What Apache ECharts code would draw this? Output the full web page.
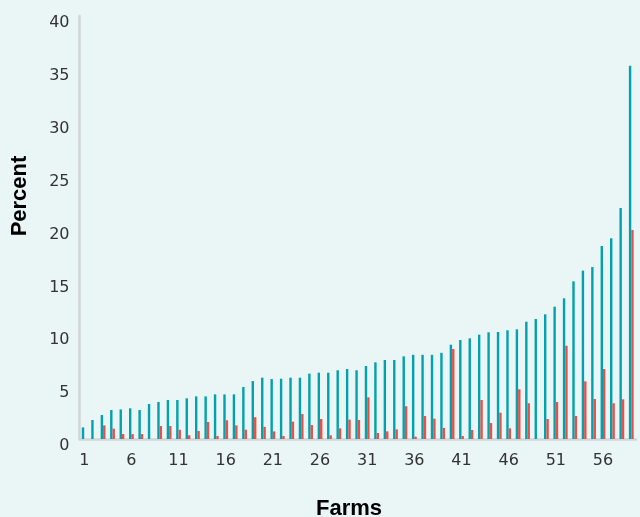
<!DOCTYPE html>
<html>
<head>
<meta charset="utf-8">
<script src="https://cdn.jsdelivr.net/npm/echarts@6/dist/echarts.min.js"></script>
<style>
html,body{margin:0;padding:0;background:#eaf5f6;}
#chart{width:640px;height:517px;}
</style>
</head>
<body>
<div id="chart"></div>
<script>
var farms = ['1','2','3','4','5','6','7','8','9','10','11','12','13','14','15','16','17','18','19','20',
  '21','22','23','24','25','26','27','28','29','30','31','32','33','34','35','36','37','38','39','40',
  '41','42','43','44','45','46','47','48','49','50','51','52','53','54','55','56','57','58','59'];
var tealValues = [1.1,1.8,2.27,2.74,2.8,2.9,2.74,3.31,3.5,3.69,
  3.69,3.85,4.03,4.03,4.22,4.22,4.22,4.92,5.48,5.8,
  5.67,5.7,5.8,5.8,6.18,6.27,6.27,6.5,6.62,6.5,
  6.9,7.25,7.47,7.47,7.82,7.96,7.96,7.96,8.15,8.92,
  9.36,9.52,9.86,10.09,10.12,10.28,10.37,11.09,11.35,11.79,
  12.51,13.3,14.91,15.92,16.26,18.25,18.98,21.84,35.3];
var redValues = [0,0,1.29,0.98,0.47,0.47,0.47,0,1.23,1.23,
  0.87,0.35,0.76,1.61,0.28,1.77,1.29,0.88,2.06,1.15,
  0.72,0.28,1.64,2.36,1.32,1.89,0.35,1.01,1.83,1.8,
  3.94,0.57,0.72,0.91,3.1,0.22,2.17,1.92,1.05,8.51,
  0.28,0.85,3.69,1.51,2.49,1.01,4.7,3.38,0,1.89,
  3.5,8.82,2.17,5.45,3.78,6.62,3.38,3.75,19.76];

var chart = echarts.init(document.getElementById('chart'), null, {renderer:'canvas'});
chart.setOption({
  backgroundColor: '#eaf5f6',
  animation: false,
  grid: {left: 79.5, right: 4, top: 16, bottom: 78, containLabel: false},
  xAxis: {
    type: 'category',
    data: farms,
    axisLine: {show: true, lineStyle: {color: '#d2d6d8', width: 2.5}},
    axisTick: {show: false},
    axisLabel: {interval: 4, color: '#333', fontSize: 16, fontFamily: 'DejaVu Sans', margin: 14}
  },
  yAxis: {
    type: 'value',
    min: 0, max: 40, interval: 5,
    splitLine: {show: false},
    axisLine: {show: true, lineStyle: {color: '#d2d6d8', width: 2.5}},
    axisTick: {show: false},
    axisLabel: {color: '#333', fontSize: 16, fontFamily: 'DejaVu Sans', margin: 10,
      verticalAlign: 'top', lineHeight: 14}
  },
  series: [
    {name: 'Series A', type: 'bar', data: tealValues, barWidth: 2.4, barGap: '0%',
      itemStyle: {color: '#00a2ad'}},
    {name: 'Series B', type: 'bar', data: redValues, barWidth: 2.4, barGap: '0%',
      itemStyle: {color: '#e5524a'}}
  ],
  graphic: [
    {type: 'text', x: 20, y: 196, rotation: Math.PI/2,
      style: {text: 'Percent', font: 'bold 22px "Liberation Sans", Arial, sans-serif', fill: '#000',
        textAlign: 'center', textVerticalAlign: 'middle'}},
    {type: 'text', x: 349, y: 509,
      style: {text: 'Farms', font: 'bold 22px "Liberation Sans", Arial, sans-serif', fill: '#000',
        textAlign: 'center', textVerticalAlign: 'middle'}}
  ]
});
</script>
</body>
</html>
